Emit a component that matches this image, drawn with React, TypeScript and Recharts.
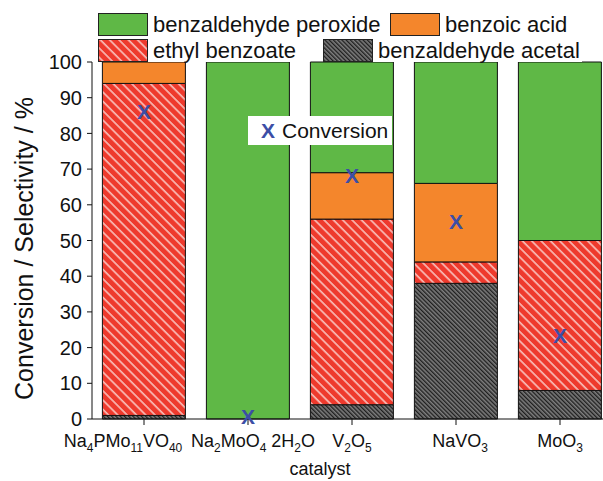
import { Bar, ComposedChart, Line, XAxis, YAxis } from "recharts";

const catalysts = ["Na4PMo11VO40", "Na2MoO4 2H2O", "V2O5", "NaVO3", "MoO3"];
const acetal = [1, 0, 4, 38, 8];
const ethylBenzoate = [93, 0, 52, 6, 42];
const benzoicAcid = [6, 0, 13, 22, 0];
const peroxide = [0, 100, 31, 34, 50];
const conversion = [86.1, 0.8, 68.3, 55.3, 23.4];
const yTicks = [0, 10, 20, 30, 40, 50, 60, 70, 80, 90, 100];

const FONT = "Arial, 'Liberation Sans', sans-serif";
const GREEN = "#5fb846";
const ORANGE = "#f4862c";
const RED = "#ee3a2d";
const BLUE = "#3c4ea6";

const data = catalysts.map((catalyst, i) => ({
  catalyst,
  acetal: acetal[i],
  ethylBenzoate: ethylBenzoate[i],
  benzoicAcid: benzoicAcid[i],
  peroxide: peroxide[i],
  conversion: conversion[i],
}));

function HatchDefs({ prefix }: { prefix: string }) {
  return (
    <defs>
      <pattern id={`${prefix}-red`} patternUnits="userSpaceOnUse" width={6.6} height={6.6} patternTransform="rotate(-45)">
        <rect width={6.6} height={6.6} fill={RED} />
        <line x1={1} y1={0} x2={1} y2={6.6} stroke="#fff" strokeWidth={1.1} />
      </pattern>
      <pattern id={`${prefix}-gray`} patternUnits="userSpaceOnUse" width={3} height={3} patternTransform="rotate(-45)">
        <rect width={3} height={3} fill="#7e7e7e" />
        <line x1={0.7} y1={0} x2={0.7} y2={3} stroke="#1a1a1a" strokeWidth={1.3} />
      </pattern>
    </defs>
  );
}

// split "Na4PMo11VO40" into normal / subscript runs (digits after a letter are subscripts)
function splitFormula(label: string) {
  const parts: { text: string; sub: boolean }[] = [];
  for (let i = 0; i < label.length; i++) {
    const ch = label[i];
    const isDigit = /[0-9]/.test(ch);
    const prev = parts[parts.length - 1];
    const sub = isDigit && (prev ? (prev.sub || /[A-Za-z]$/.test(prev.text)) : false);
    if (prev && prev.sub === sub) prev.text += ch;
    else parts.push({ text: ch, sub });
  }
  return parts;
}

function CatalystTick(props: any) {
  const { x, y, payload, index } = props;
  const parts = splitFormula(payload.value);
  const shift = index === 0 ? -21 : index === 1 ? 5 : index === 3 ? 4 : 0;
  let wasSub = false;
  return (
    <text x={x + shift} y={y + 20} textAnchor="middle" fontFamily={FONT} fontSize={18} fill="#111">
      {parts.map((p, i) => {
        const dy = p.sub ? 5 : wasSub ? -5 : 0;
        wasSub = p.sub;
        return (
          <tspan key={i} dy={dy} fontSize={p.sub ? 12 : 18}>
            {p.text}
          </tspan>
        );
      })}
    </text>
  );
}

function ConversionMark(props: any) {
  const { cx, cy } = props;
  if (cx == null || cy == null) return null;
  return (
    <text x={cx} y={cy} textAnchor="middle" dominantBaseline="central" fontFamily={FONT} fontWeight="bold" fontSize={21} fill={BLUE}>
      X
    </text>
  );
}

const legendItems = [
  { name: "benzaldehyde peroxide", fill: GREEN, hatch: "" },
  { name: "benzoic acid", fill: ORANGE, hatch: "" },
  { name: "ethyl benzoate", fill: "", hatch: "red" },
  { name: "benzaldehyde acetal", fill: "", hatch: "gray" },
];

function Swatch({ fill, hatch }: { fill: string; hatch: string }) {
  return (
    <svg width={50} height={23} style={{ display: "block" }}>
      <HatchDefs prefix={`lg-${hatch || "solid"}`} />
      <rect x={0.5} y={0.5} width={49} height={22} fill={hatch ? `url(#lg-${hatch}-${hatch})` : fill} stroke="#222" strokeWidth={1} />
    </svg>
  );
}

function LegendEntry({ item, left, top }: { item: (typeof legendItems)[number]; left: number; top: number }) {
  return (
    <div style={{ position: "absolute", left, top, display: "flex", alignItems: "center", background: "#fff", paddingRight: 2 }}>
      <Swatch fill={item.fill} hatch={item.hatch} />
      <span style={{ marginLeft: 5, fontSize: 22, lineHeight: "23px", color: "#111" }}>{item.name}</span>
    </div>
  );
}

export default function App() {
  return (
    <div style={{ position: "fixed", left: 0, top: 0, width: 603, height: 481, overflow: "hidden", background: "#fff", fontFamily: FONT }}>
      <ComposedChart width={615} height={481} data={data} margin={{ top: 62, right: 3, bottom: 0, left: 0 }} barCategoryGap="10%">
        <HatchDefs prefix="bar" />
        <XAxis
          dataKey="catalyst"
          interval={0}
          height={62}
          tick={<CatalystTick />}
          tickSize={6}
          axisLine={{ stroke: "#111" }}
          tickLine={{ stroke: "#111" }}
          label={{
            content: (p: any) => (
              <text x={p.viewBox.x + 228} y={p.viewBox.y + 56} textAnchor="middle" fontFamily={FONT} fontSize={18} fill="#111">
                catalyst
              </text>
            ),
          }}
        />
        <YAxis
          width={92}
          domain={[0, 100]}
          ticks={yTicks}
          interval={0}
          tickSize={5}
          tickMargin={5}
          tick={{ fill: "#111", fontSize: 20, fontFamily: FONT }}
          axisLine={{ stroke: "#111" }}
          tickLine={{ stroke: "#111" }}
          label={{
            content: (p: any) => {
              const cx = p.viewBox.x + 24;
              const cy = p.viewBox.y + p.viewBox.height / 2 + 8;
              return (
                <text x={cx} y={cy} transform={`rotate(-90 ${cx} ${cy})`} textAnchor="middle" dominantBaseline="central" fontFamily={FONT} fontSize={25} fill="#111">
                  Conversion / Selectivity / %
                </text>
              );
            },
          }}
        />
        <Bar dataKey="acetal" stackId="s" fill="url(#bar-gray)" stroke="#111" strokeWidth={1} isAnimationActive={false} />
        <Bar dataKey="ethylBenzoate" stackId="s" fill="url(#bar-red)" stroke="#111" strokeWidth={1} isAnimationActive={false} />
        <Bar dataKey="benzoicAcid" stackId="s" fill={ORANGE} stroke="#111" strokeWidth={1} isAnimationActive={false} />
        <Bar dataKey="peroxide" stackId="s" fill={GREEN} stroke="#111" strokeWidth={1} isAnimationActive={false} />
        <Line dataKey="conversion" stroke="none" dot={<ConversionMark />} activeDot={false} isAnimationActive={false} />
      </ComposedChart>

      <LegendEntry item={legendItems[0]} left={98} top={13} />
      <LegendEntry item={legendItems[1]} left={390} top={13} />
      <LegendEntry item={legendItems[2]} left={98} top={39} />
      <LegendEntry item={legendItems[3]} left={323} top={39} />

      <div style={{ position: "absolute", left: 248, top: 116, width: 144, height: 29, background: "#fff", display: "flex", alignItems: "center" }}>
        <span style={{ marginLeft: 13, color: BLUE, fontWeight: "bold", fontSize: 21 }}>X</span>
        <span style={{ marginLeft: 7, fontSize: 21, color: "#111" }}>Conversion</span>
      </div>
    </div>
  );
}
